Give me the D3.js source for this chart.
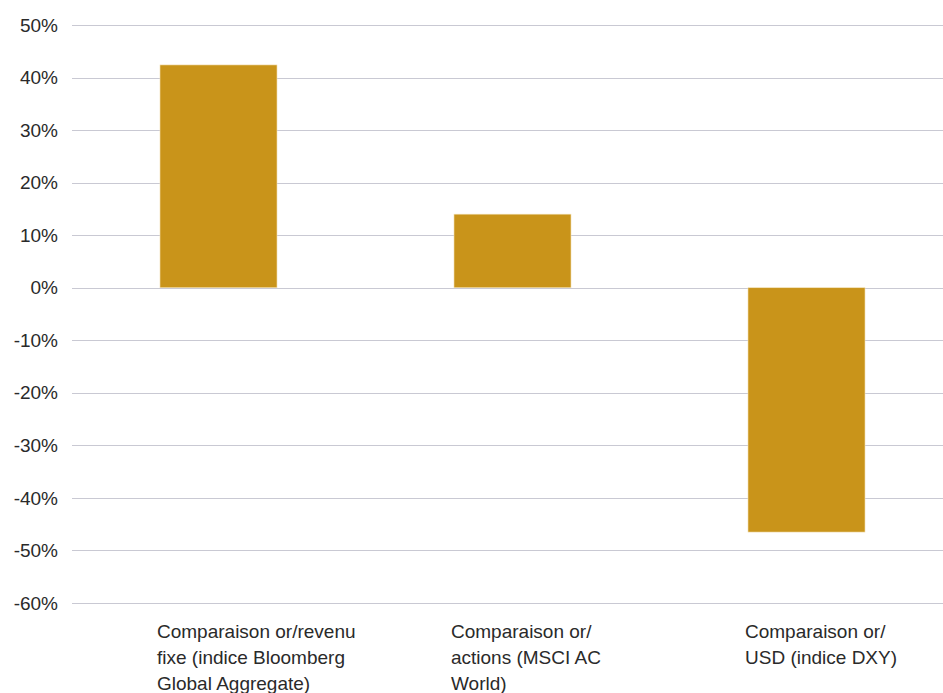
<!DOCTYPE html>
<html>
<head>
<meta charset="utf-8">
<script src="https://cdn.jsdelivr.net/npm/d3@7"></script>
<style>
  body { margin: 0; background: #fff; }
  svg text { font-family: "Liberation Sans", Arial, sans-serif; fill: #2a2a2a; }
</style>
</head>
<body>
<svg id="chart" width="943" height="693"></svg>
<script>
// data
var categories = ["fixed", "equity", "usd"];
var categoryLabels = [
  ["Comparaison or/revenu", "fixe (indice Bloomberg", "Global Aggregate)"],
  ["Comparaison or/", "actions (MSCI AC", "World)"],
  ["Comparaison or/", "USD (indice DXY)"]
];
var values = [42.4, 14.0, -46.5];
var yTicks = [50, 40, 30, 20, 10, 0, -10, -20, -30, -40, -50, -60];

var barColor = "#c9941a";
var gridColor = "#c9c9d3";

var svg = d3.select("#chart");

var y = d3.scaleLinear().domain([-60, 50]).range([603, 25]);
var x = d3.scaleBand().domain(categories).range([71.5, 953.5]).paddingInner(0.602).paddingOuter(0.301);

// gridlines
svg.append("g").selectAll("line")
  .data(yTicks)
  .join("line")
  .attr("x1", 72)
  .attr("x2", 943)
  .attr("y1", function(d) { return Math.round(y(d)) + 0.5; })
  .attr("y2", function(d) { return Math.round(y(d)) + 0.5; })
  .attr("stroke", gridColor)
  .attr("stroke-width", 1);

// y tick labels
svg.append("g").selectAll("text")
  .data(yTicks)
  .join("text")
  .attr("x", 58)
  .attr("y", function(d) { return y(d); })
  .attr("dy", "0.35em")
  .attr("text-anchor", "end")
  .style("font-size", "19px")
  .text(function(d) { return d + "%"; });

// bars
svg.append("g").selectAll("rect")
  .data(values)
  .join("rect")
  .attr("x", function(d, i) { return x(categories[i]); })
  .attr("width", x.bandwidth())
  .attr("y", function(d) { return y(Math.max(0, d)); })
  .attr("height", function(d) { return Math.abs(y(d) - y(0)); })
  .attr("fill", barColor)
  .attr("stroke", "#f3e2b8")
  .attr("stroke-width", 0.6);

// category labels
var lab = svg.append("g").selectAll("text")
  .data(categoryLabels)
  .join("text")
  .attr("x", function(d, i) { return x(categories[i]) - 3; })
  .attr("y", 638)
  .style("font-size", "19px");

lab.selectAll("tspan")
  .data(function(d) { return d; })
  .join("tspan")
  .attr("x", function() { return d3.select(this.parentNode).attr("x"); })
  .attr("dy", function(d, i) { return i === 0 ? 0 : 26; })
  .text(function(d) { return d; });
</script>
</body>
</html>
